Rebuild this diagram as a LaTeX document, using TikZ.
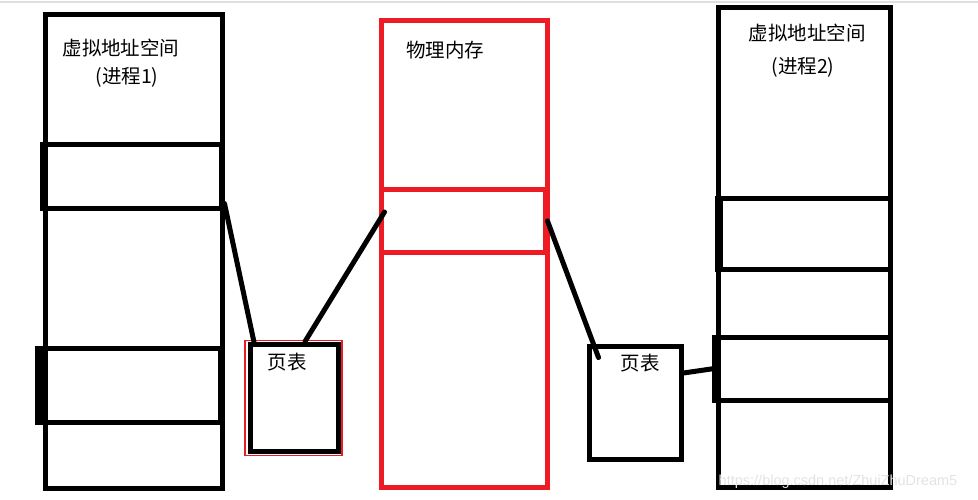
\documentclass[tikz,border=0pt]{standalone}
\usepackage{fontspec}
\setmainfont{Noto Sans CJK SC}
\newfontfamily\marcafont{Liberation Sans}
\definecolor{rojo}{RGB}{237,28,36}
\tikzstyle{bloque} = [draw=black, line width=5pt, rectangle, inner sep=0pt]
\tikzstyle{bloquerojo} = [draw=rojo, line width=5pt, rectangle, inner sep=0pt]
\tikzstyle{enlace} = [draw=black, line width=5pt, line cap=round]
\tikzstyle{texto} = [inner sep=0pt, font=\fontsize{19.5}{23}\selectfont]

\begin{document}
\begin{tikzpicture}[x=1pt,y=-1pt]
	\useasboundingbox (0,0) rectangle (978,500);
	\draw[color=gray!25, line width=1.5pt] (0,2) -- (978,2);
	% proceso 1
	\node[bloque, minimum width=177pt, minimum height=473pt](esp1) at (133.5,251.5) {};
	\node[bloque, minimum width=179pt, minimum height=64pt](seg1a) at (131.5,177) {};
	\node[bloque, minimum width=179pt, minimum height=74pt](seg1b) at (130.5,385) {};
	\draw[line width=8pt] (seg1b.north west) -- (seg1b.south west);
	\node[texto](titulo1) at (121,48) {虚拟地址空间};
	\node[texto](proc1) at (127,77) {(进程1)};
	% memoria fisica
	\node[bloquerojo, minimum width=166pt, minimum height=466pt](fisica) at (464,254) {};
	\node[bloquerojo, minimum width=164pt, minimum height=62pt](marco) at (463,221) {};
	\node[texto](titulo3) at (445,50) {物理内存};
	% tablas de paginas
	\node[draw=rojo, line width=1.5pt, rectangle, minimum width=97pt, minimum height=115pt](borde1) at (293.5,398) {};
	\node[bloque, minimum width=88pt, minimum height=107pt](tabla1) at (294,397.5) {};
	\node[texto](pag1) at (287,362) {页表};
	\node[bloque, minimum width=92pt, minimum height=113pt](tabla2) at (635,402.5) {};
	\node[texto](pag2) at (640,363) {页表};
	% proceso 2
	\node[bloque, minimum width=172pt, minimum height=479pt](esp2) at (804,247.5) {};
	\node[bloque, minimum width=170pt, minimum height=70pt](seg2a) at (805,234) {};
	\draw[line width=6pt] (seg2a.north west) -- (seg2a.south west);
	\node[bloque, minimum width=173pt, minimum height=63pt](seg2b) at (803.5,368.5) {};
	\draw[line width=6pt] (seg2b.north west) -- (seg2b.south west);
	\node[texto](titulo2) at (807,33) {虚拟地址空间};
	\node[texto](proc2) at (803,67) {(进程2)};
	% enlaces
	\draw[enlace] ([shift={(1,-8)}]seg1a.south east) -- ([shift={(7,3)}]tabla1.north west);
	\draw[enlace] ([xshift=11pt]tabla1.north) -- ([shift={(6,-9)}]marco.west);
	\draw[enlace] (marco.east) -- ([shift={(12,14)}]tabla2.north west);
	\draw[enlace] ([yshift=29.5pt]tabla2.east) -- (seg2b.west);
	\node[inner sep=0pt, text=gray!22, font=\marcafont\fontsize{14.5}{17}\selectfont](marca) at (838,482) {https://blog.csdn.net/ZhuiZhuDream5};
\end{tikzpicture}
\end{document}
